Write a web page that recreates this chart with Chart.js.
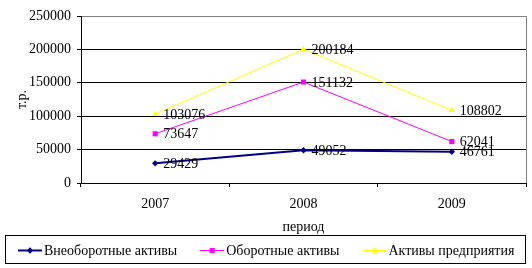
<!DOCTYPE html>
<html>
<head>
<meta charset="utf-8">
<script src="https://cdn.jsdelivr.net/npm/chart.js@4/dist/chart.umd.min.js"></script>
<style>
  html, body { margin: 0; padding: 0; background: #ffffff; }
  #wrap { width: 532px; height: 268px; }
</style>
</head>
<body>
<div id="wrap"><canvas id="c" width="532" height="268"></canvas></div>
<script>
const categories = ['2007', '2008', '2009'];
const seriesNames = ['Внеоборотные активы', 'Оборотные активы', 'Активы предприятия'];
const nonCurrentAssets = [29429, 49052, 46761];
const currentAssets = [73647, 151132, 62041];
const totalAssets = [103076, 200184, 108802];
const yTickValues = [0, 50000, 100000, 150000, 200000, 250000];
const yAxisTitle = 'т.р.';
const xAxisTitle = 'период';

const FONT = '"Liberation Serif", "Times New Roman", serif';
Chart.defaults.font.family = FONT;
Chart.defaults.font.size = 14;
Chart.defaults.color = '#000000';

const colors = ['#000080', '#FF00FF', '#FFFF00'];
const styles = ['rectRot', 'rect', 'triangle'];
const radii = [3.2, 3.6, 3.6];
const widths = [2, 1, 1];
const seriesData = [nonCurrentAssets, currentAssets, totalAssets];

const bgPlugin = {
  id: 'bg',
  beforeDraw(chart) {
    const ctx = chart.ctx;
    ctx.save();
    ctx.fillStyle = '#ffffff';
    ctx.fillRect(0, 0, chart.width, chart.height);
    ctx.restore();
  },
  afterDatasetsDraw(chart) {
    const ctx = chart.ctx;
    const a = chart.chartArea;
    ctx.save();
    ctx.strokeStyle = '#808080';
    ctx.lineWidth = 1;
    ctx.beginPath();
    ctx.moveTo(Math.round(a.right) + 0.5, Math.round(a.top));
    ctx.lineTo(Math.round(a.right) + 0.5, Math.round(a.bottom));
    ctx.stroke();
    // data labels
    ctx.font = '14px ' + FONT;
    ctx.fillStyle = '#000000';
    ctx.textBaseline = 'middle';
    ctx.textAlign = 'left';
    chart.data.datasets.forEach((ds, di) => {
      const meta = chart.getDatasetMeta(di);
      meta.data.forEach((pt, i) => {
        ctx.fillText(String(ds.data[i]), pt.x + 8, pt.y + 1);
      });
    });
    ctx.restore();
  }
};

function drawMarker(ctx, style, x, y, r, color) {
  ctx.fillStyle = color;
  ctx.strokeStyle = color;
  ctx.beginPath();
  if (style === 'rectRot') {
    ctx.moveTo(x, y - r); ctx.lineTo(x + r, y); ctx.lineTo(x, y + r); ctx.lineTo(x - r, y);
  } else if (style === 'rect') {
    const s = r * Math.SQRT1_2;
    ctx.rect(x - s, y - s, 2 * s, 2 * s);
  } else {
    ctx.moveTo(x, y - r); ctx.lineTo(x + r * 0.9, y + r * 0.6); ctx.lineTo(x - r * 0.9, y + r * 0.6);
  }
  ctx.closePath();
  ctx.fill();
}

const legendPlugin = {
  id: 'boxLegend',
  afterDraw(chart) {
    const ctx = chart.ctx;
    ctx.save();
    ctx.strokeStyle = '#000000';
    ctx.lineWidth = 1;
    ctx.strokeRect(5.5, 235.5, 520, 28);
    ctx.font = '14px ' + FONT;
    ctx.textBaseline = 'middle';
    ctx.textAlign = 'left';
    let x = 18;
    const y = 250;
    seriesNames.forEach((name, i) => {
      ctx.strokeStyle = colors[i];
      ctx.lineWidth = widths[i];
      ctx.beginPath();
      ctx.moveTo(x, y + 0.5);
      ctx.lineTo(x + 24, y + 0.5);
      ctx.stroke();
      drawMarker(ctx, styles[i], x + 12, y + 0.5, radii[i], colors[i]);
      ctx.fillStyle = '#000000';
      ctx.fillText(name, x + 26, y + 1);
      x += 26 + ctx.measureText(name).width + 23;
    });
    ctx.restore();
  }
};

new Chart(document.getElementById('c'), {
  type: 'line',
  data: {
    labels: categories,
    datasets: seriesNames.map((name, i) => ({
      label: name,
      data: seriesData[i],
      borderColor: colors[i],
      backgroundColor: colors[i],
      borderWidth: widths[i],
      pointStyle: styles[i],
      pointRadius: radii[i],
      pointBorderWidth: 0,
      pointBackgroundColor: colors[i],
      tension: 0,
      fill: false
    }))
  },
  options: {
    responsive: false,
    animation: false,
    devicePixelRatio: 1,
    layout: { padding: { top: 16, right: 6, left: 0, bottom: 0 } },
    plugins: {
      legend: { display: false },
      tooltip: { enabled: false }
    },
    scales: {
      x: {
        offset: true,
        grid: { display: true, drawOnChartArea: false, offset: true, tickLength: 4, color: '#000000' },
        border: { color: '#000000', width: 1 },
        ticks: { padding: 9, color: '#000000', font: { size: 14 } },
        title: { display: true, text: xAxisTitle, color: '#000000', font: { size: 14 }, padding: { top: 0, bottom: 32 } },
        afterFit(scale) { scale.height = 85; }
      },
      y: {
        min: 0,
        max: 250000,
        afterBuildTicks(scale) { scale.ticks = yTickValues.map(v => ({ value: v })); },
        grid: {
          color: (c) => (c.tick && c.tick.value === 250000 ? '#808080' : '#000000'),
          tickColor: '#000000',
          tickLength: 4,
          lineWidth: 1
        },
        border: { color: '#000000', width: 1 },
        ticks: { padding: 6, color: '#000000', font: { size: 14 }, callback: (v) => String(v) },
        title: { display: true, text: yAxisTitle, color: '#000000', font: { size: 14 }, padding: { top: 14, bottom: 0 } },
        afterFit(scale) { scale.width = 81; }
      }
    }
  },
  plugins: [bgPlugin, legendPlugin]
});
</script>
</body>
</html>
